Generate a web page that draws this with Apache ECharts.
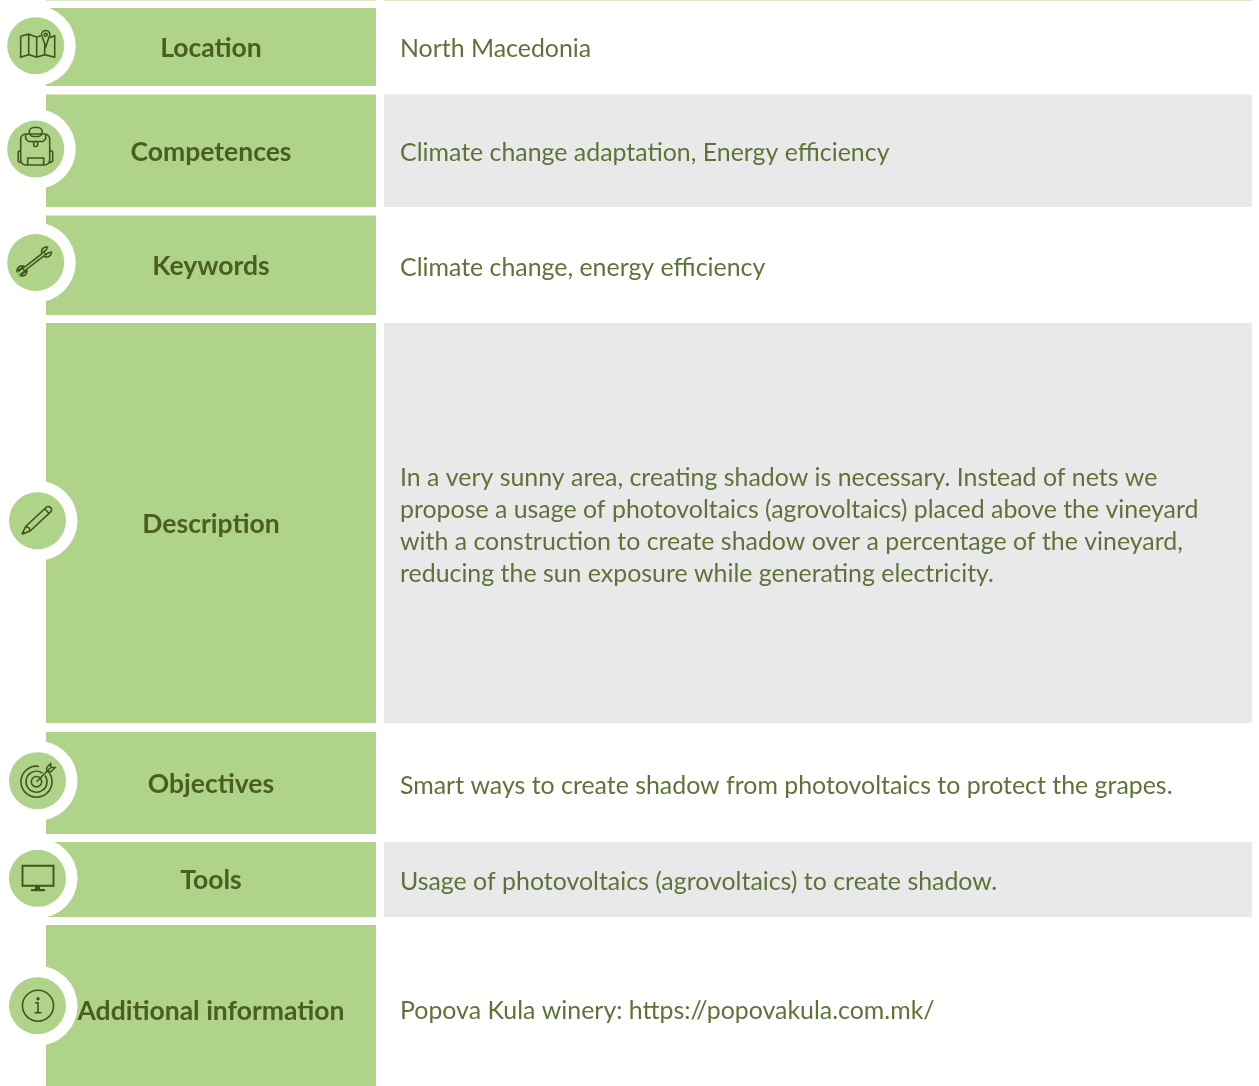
<!DOCTYPE html>
<html><head><meta charset="utf-8">
<style>html,body{margin:0;padding:0;background:#fff}#c{width:1259px;height:1086px}</style>
<script src="https://cdn.jsdelivr.net/npm/echarts@6/dist/echarts.min.js"></script>
</head><body><div id="c"></div>
<script>
// content
const rowLabels = ['Location','Competences','Keywords','Description','Objectives','Tools','Additional information'];
const rowDetails = [
  ['North Macedonia'],
  ['Climate change adaptation, Energy efficiency'],
  ['Climate change, energy efficiency'],
  ['In a very sunny area, creating shadow is necessary. Instead of nets we',
   'propose a usage of photovoltaics (agrovoltaics) placed above the vineyard',
   'with a construction to create shadow over a percentage of the vineyard,',
   'reducing the sun exposure while generating electricity.'],
  ['Smart ways to create shadow from photovoltaics to protect the grapes.'],
  ['Usage of photovoltaics (agrovoltaics) to create shadow.'],
  ['Popova Kula winery: https://popovakula.com.mk/']
];
const rowIcons = ['map','backpack','wrench','pencil','target','monitor','info'];

// layout (pixel scale of the hidden axes)
const rowTop    = [8, 94.5, 215.5, 323, 732, 842, 925];
const rowBottom = [86, 207, 315, 723, 834, 917, 1086];
const labelY    = [48, 152, 266, 524, 784, 880, 1011];
const detailY   = [49, 153, 268, 478, 786, 882, 1011];
const iconX     = [35.7, 35.7, 35.7, 37.5, 37.5, 37.5, 37.5];
const iconY     = [45.7, 149, 262.5, 520.7, 780.7, 878.3, 1005.7];
const detailShaded = [false, true, false, true, false, true, false];

const GREEN = '#AFD489', GREY = '#E9E9E9', DARK = '#4A5E20', MID = '#5E7338', ICON = '#42561B';
const FONT = 'Lato';

function icon(name, cx, cy) {
  const st = {stroke: ICON, fill: 'none', lineWidth: 1.6};
  const line = pts => ({type: 'polyline', shape: {points: pts.map(p => [cx + p[0], cy + p[1]])}, style: st});
  const circ = (x, y, r) => ({type: 'circle', shape: {cx: cx + x, cy: cy + y, r}, style: st});
  const rect = (x, y, w, h, r) => ({type: 'rect', shape: {x: cx + x, y: cy + y, width: w, height: h, r: r || 0}, style: st});
  const solid = (x, y, w, h) => ({type: 'rect', shape: {x: cx + x, y: cy + y, width: w, height: h}, style: {fill: ICON}});
  if (name === 'map') return [
    line([[-15,-9.5],[-7,-11.5],[1,-8.5],[5,-10]]),
    line([[14,-8],[19,-10],[19,11.5],[9,9],[1,11.5],[-7,9],[-15,11.5],[-15,-9.5]]),
    line([[-7,-11.5],[-7,9]]), line([[1,-8.5],[1,11.5]]), line([[9,-1],[9,9]]),
    line([[6.2,-10],[10,1],[13.8,-10]]),
    {type: 'arc', shape: {cx: cx + 10, cy: cy - 11, r: 4.2, startAngle: Math.PI * 0.9, endAngle: Math.PI * 2.1}, style: st},
    circ(10, -11, 1.5)
  ];
  if (name === 'backpack') return [
    rect(-15, -15, 29, 31, 5),
    rect(-6.5, -21.5, 13, 9, 5),
    line([[-10,-15],[-10,-10],[-7,-7.5],[7,-7.5],[10,-10],[10,-15]]),
    rect(-2, -7.5, 4, 5, 1.5),
    line([[-8,16],[-8,9],[8,9],[8,16]]),
    line([[-15,1],[-17.5,3],[-17.5,12],[-15,14]]),
    line([[14,1],[17,3],[17,12],[14,14]])
  ];
  if (name === 'wrench') {
    const ang = -Math.atan2(24, 31), c = Math.cos(ang), s = Math.sin(ang);
    const t = (u, v) => [-1.5 + u * c - v * s, -1 + u * s + v * c];
    const head = (u0, sign) => {
      const pts = [], R = 5;
      for (let a = 200; a >= -200; a -= 20) {
        if (Math.abs(a) < 35) continue;
        const ra = a * Math.PI / 180;
        pts.push([u0 + sign * R * Math.cos(ra), R * Math.sin(ra)]);
      }
      return pts;
    };
    const hi = head(15.5, 1).filter(p => p[0] > 11.5);
    const up = hi.filter(p => p[1] >= 0).sort((a, b) => a[0] - b[0]);
    const dn = hi.filter(p => p[1] < 0).sort((a, b) => b[0] - a[0]);
    const lo = head(-15.5, -1).filter(p => p[0] < -11.5);
    const lup = lo.filter(p => p[1] >= 0).sort((a, b) => b[0] - a[0]);
    const ldn = lo.filter(p => p[1] < 0).sort((a, b) => a[0] - b[0]);
    const path = [[-11,1.5],[11,1.5]].concat(up, [[16.5,1.8],[13.2,1.8],[13.2,-1.8],[16.5,-1.8]], dn,
      [[11,-1.5],[-11,-1.5]], ldn, [[-16.5,-1.8],[-13.2,-1.8],[-13.2,1.8],[-16.5,1.8]], lup, [[-11,1.5]]);
    return [line(path.map(p => t(p[0], p[1])))];
  }
  if (name === 'pencil') {
    const tip = [-15.5, 13.5], e = [13, -13];
    const L = Math.hypot(e[0] - tip[0], e[1] - tip[1]);
    const ux = (e[0] - tip[0]) / L, uy = (e[1] - tip[1]) / L;
    const t = (u, v) => [tip[0] + u * ux - v * uy, tip[1] + u * uy + v * ux];
    return [
      line([t(0,0), t(8,3.2), t(L-2,3.2), t(L,1.5), t(L,-1.5), t(L-2,-3.2), t(8,-3.2), t(0,0)]),
      line([t(L-5,3.2), t(L-5,-3.2)]),
      line([t(8,3.2), t(9.5,0), t(8,-3.2)]),
      {type: 'polygon', shape: {points: [t(0,0), t(3,1.3), t(3,-1.3)].map(p => [cx + p[0], cy + p[1]])}, style: {fill: ICON}}
    ];
  }
  if (name === 'target') return [
    {type: 'arc', shape: {cx: cx - 1, cy: cy + 1, r: 15.5, startAngle: -0.25 * Math.PI, endAngle: 1.55 * Math.PI}, style: st},
    {type: 'arc', shape: {cx: cx - 1, cy: cy + 1, r: 10.5, startAngle: -0.2 * Math.PI, endAngle: 1.7 * Math.PI}, style: st},
    circ(-1, 1, 5.2),
    line([[-1,1],[13,-13]]),
    line([[9,-13],[13,-17],[13.5,-13.5],[17.5,-13],[13.5,-9],[9.5,-9.5],[9,-13]])
  ];
  if (name === 'monitor') return [
    {type: 'rect', shape: {x: cx - 15, y: cy - 12.5, width: 31, height: 20}, style: Object.assign({}, st, {lineWidth: 1.9})},
    solid(-2.5, 7.5, 5, 3.2),
    solid(-6.5, 10.7, 14, 2.2)
  ];
  return [
    circ(0.5, 0, 15.5),
    circ(0.5, -7, 0.9),
    line([[-2.5,-3],[0.5,-3],[0.5,7]]),
    line([[-3,7],[4,7]])
  ];
}

function renderRow(params, api) {
  const i = api.value(0);
  const p = (x, y) => api.coord([x, y]);
  const tl = p(46, rowTop[i]), br = p(376, rowBottom[i]);
  const rl = p(384, rowTop[i]), rr = p(1252, rowBottom[i]);
  const c = p(iconX[i], iconY[i]);
  const children = [];
  children.push({type: 'rect', shape: {x: tl[0], y: tl[1], width: br[0] - tl[0], height: br[1] - tl[1]}, style: {fill: GREEN}});
  if (detailShaded[i]) {
    children.push({type: 'rect', shape: {x: rl[0], y: rl[1], width: rr[0] - rl[0], height: rr[1] - rl[1]}, style: {fill: GREY}});
  }
  children.push({type: 'circle', shape: {cx: c[0], cy: c[1], r: 40}, style: {fill: '#fff'}});
  children.push({type: 'circle', shape: {cx: c[0], cy: c[1], r: 28.5}, style: {fill: GREEN}});
  icon(rowIcons[i], c[0], c[1]).forEach(e => children.push(e));
  const lp = p(211, labelY[i]);
  children.push({type: 'text', style: {text: rowLabels[i], x: lp[0], y: lp[1], align: 'center', verticalAlign: 'middle',
    fill: DARK, font: 'bold 26.5px ' + FONT}});
  rowDetails[i].forEach((line, k) => {
    const d = p(400, detailY[i] + k * 32);
    children.push({type: 'text', style: {text: line, x: d[0], y: d[1], align: 'left', verticalAlign: 'middle',
      fill: MID, font: '24.9px ' + FONT}});
  });
  return {type: 'group', children};
}

const topRuleData = [[46, 376], [384, 1252]];
const chart = echarts.init(document.getElementById('c'), null, {renderer: 'canvas'});
chart.setOption({
  animation: false,
  backgroundColor: '#fff',
  grid: {left: 0, right: 0, top: 0, bottom: 0},
  xAxis: {type: 'value', min: 0, max: 1259, show: false},
  yAxis: {type: 'value', min: 0, max: 1086, inverse: true, show: false},
  series: [
    {type: 'custom', silent: true, clip: false, data: rowLabels.map((_, i) => [i]), encode: {x: [], y: []}, renderItem: renderRow},
    {type: 'custom', silent: true, clip: false, data: topRuleData, renderItem(params, api) {
      const a = api.coord([api.value(0), 0]), b = api.coord([api.value(1), 1]);
      return {type: 'rect', shape: {x: a[0], y: a[1], width: b[0] - a[0], height: b[1] - a[1]}, style: {fill: '#D9EAC8'}};
    }}
  ]
});
</script></body></html>
